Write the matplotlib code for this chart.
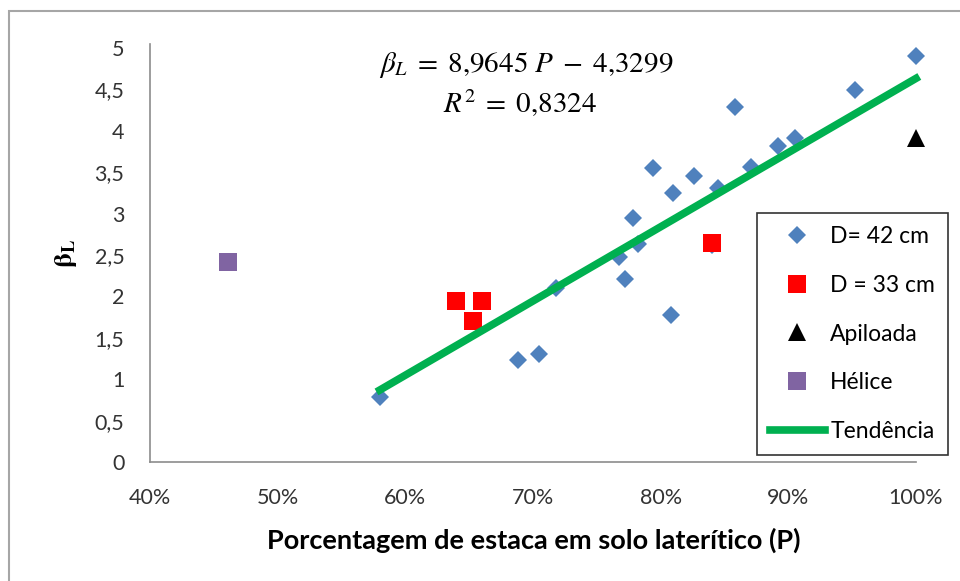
import matplotlib
matplotlib.use('Agg')
import matplotlib.pyplot as plt
from matplotlib.patches import Rectangle
from matplotlib.ticker import FuncFormatter

# %% Data (P in %, beta_L)
d42_p = [58.0, 64.0, 66.0, 65.3, 68.8, 70.5, 71.8, 76.7, 77.2, 77.8, 78.2, 79.4, 80.8, 81.0,
         82.6, 84.0, 84.5, 85.8, 87.1, 89.2, 90.5, 95.2, 100.0]
d42_b = [0.78, 1.94, 1.94, 1.70, 1.23, 1.31, 2.10, 2.48, 2.21, 2.95, 2.63, 3.55, 1.78, 3.25,
         3.45, 2.62, 3.31, 4.29, 3.57, 3.82, 3.92, 4.50, 4.90]
d33_p = [64.0, 66.0, 65.3, 84.0]
d33_b = [1.94, 1.94, 1.70, 2.64]
apiloada_p = [100.0]
apiloada_b = [3.92]
helice_p = [46.1]
helice_b = [2.42]

slope = 8.9645
intercept = -4.3299
trend_p = [58.0, 100.0]

xticks = [40, 50, 60, 70, 80, 90, 100]
yticks = [0, 0.5, 1, 1.5, 2, 2.5, 3, 3.5, 4, 4.5, 5]

# %% Plot
plt.rcParams['font.family'] = ['Lato', 'DejaVu Sans']
plt.rcParams['mathtext.fontset'] = 'stix'

fig = plt.figure(figsize=(9.6, 5.81), dpi=100)
ax = fig.add_axes([150/960, 1-462/581, (916-150)/960, (462-44)/581])

# chart border (only top/left visible in the picture)
fig.patches.append(Rectangle((9/960, -0.2), 1.2, 1.2 - 11/581, transform=fig.transFigure,
                             fill=False, edgecolor='#a6a6a6', linewidth=1.5))

ax.plot(d42_p, d42_b, 'D', color='#4f81bd', markersize=9, markeredgewidth=0,
        label='D= 42 cm', zorder=3, clip_on=False)
ax.plot(d33_p, d33_b, 's', color='#ff0000', markersize=13, markeredgewidth=0,
        label='D = 33 cm', zorder=4, clip_on=False)
ax.plot(apiloada_p, apiloada_b, '^', color='black', markersize=13, markeredgewidth=0,
        label='Apiloada', zorder=4, clip_on=False)
ax.plot(helice_p, helice_b, 's', color='#8064a2', markersize=13, markeredgewidth=0,
        label='Hélice', zorder=4, clip_on=False)
trend_b = [slope * p / 100 + intercept for p in trend_p]
ax.plot(trend_p, trend_b, '-', color='#00b050', linewidth=5.5, label='Tendência',
        zorder=5, clip_on=False)

ax.set_xlim(40, 100)
ax.set_ylim(0, 5.05)
ax.set_xticks(xticks)
ax.set_yticks(yticks)
ax.xaxis.set_major_formatter(FuncFormatter(lambda v, pos: f'{v:.0f}%'))
ax.yaxis.set_major_formatter(FuncFormatter(lambda v, pos: f'{v:g}'.replace('.', ',')))
ax.tick_params(length=0, labelsize=15.5, labelcolor='#333333')
ax.tick_params(axis='x', pad=18.5)
ax.tick_params(axis='y', pad=18.5)
for s in ['top', 'right']:
    ax.spines[s].set_visible(False)
for s in ['left', 'bottom']:
    ax.spines[s].set_color('#8c8c8c')
    ax.spines[s].set_linewidth(1.2)

fig.text(534/960, 1-540/581, 'Porcentagem de estaca em solo laterítico (P)',
         ha='center', va='center', fontsize=19.5, fontweight='bold')
fig.text(66/960, 1-254/581, r'$\mathbf{\beta}_\mathbf{L}$', rotation=90,
         ha='center', va='center', fontsize=19)

ax.text(0.491, 0.950, r'$\beta_L\;=\;8{,}9645\ P\;-\;4{,}3299$', ha='center', va='center',
        fontsize=21, transform=ax.transAxes)
ax.text(0.483, 0.859, r'$R^2\;=\;0{,}8324$', ha='center', va='center', fontsize=21,
        transform=ax.transAxes)

leg = fig.legend(loc='upper left', bbox_to_anchor=(757/960, 1-213/581), fontsize=16.5,
                 frameon=True, fancybox=False, edgecolor='black', labelspacing=1.22,
                 handlelength=2.4, borderpad=0.55, handletextpad=0.25, borderaxespad=0)
leg.get_frame().set_linewidth(1.2)

plt.savefig('out.png', dpi=100)
